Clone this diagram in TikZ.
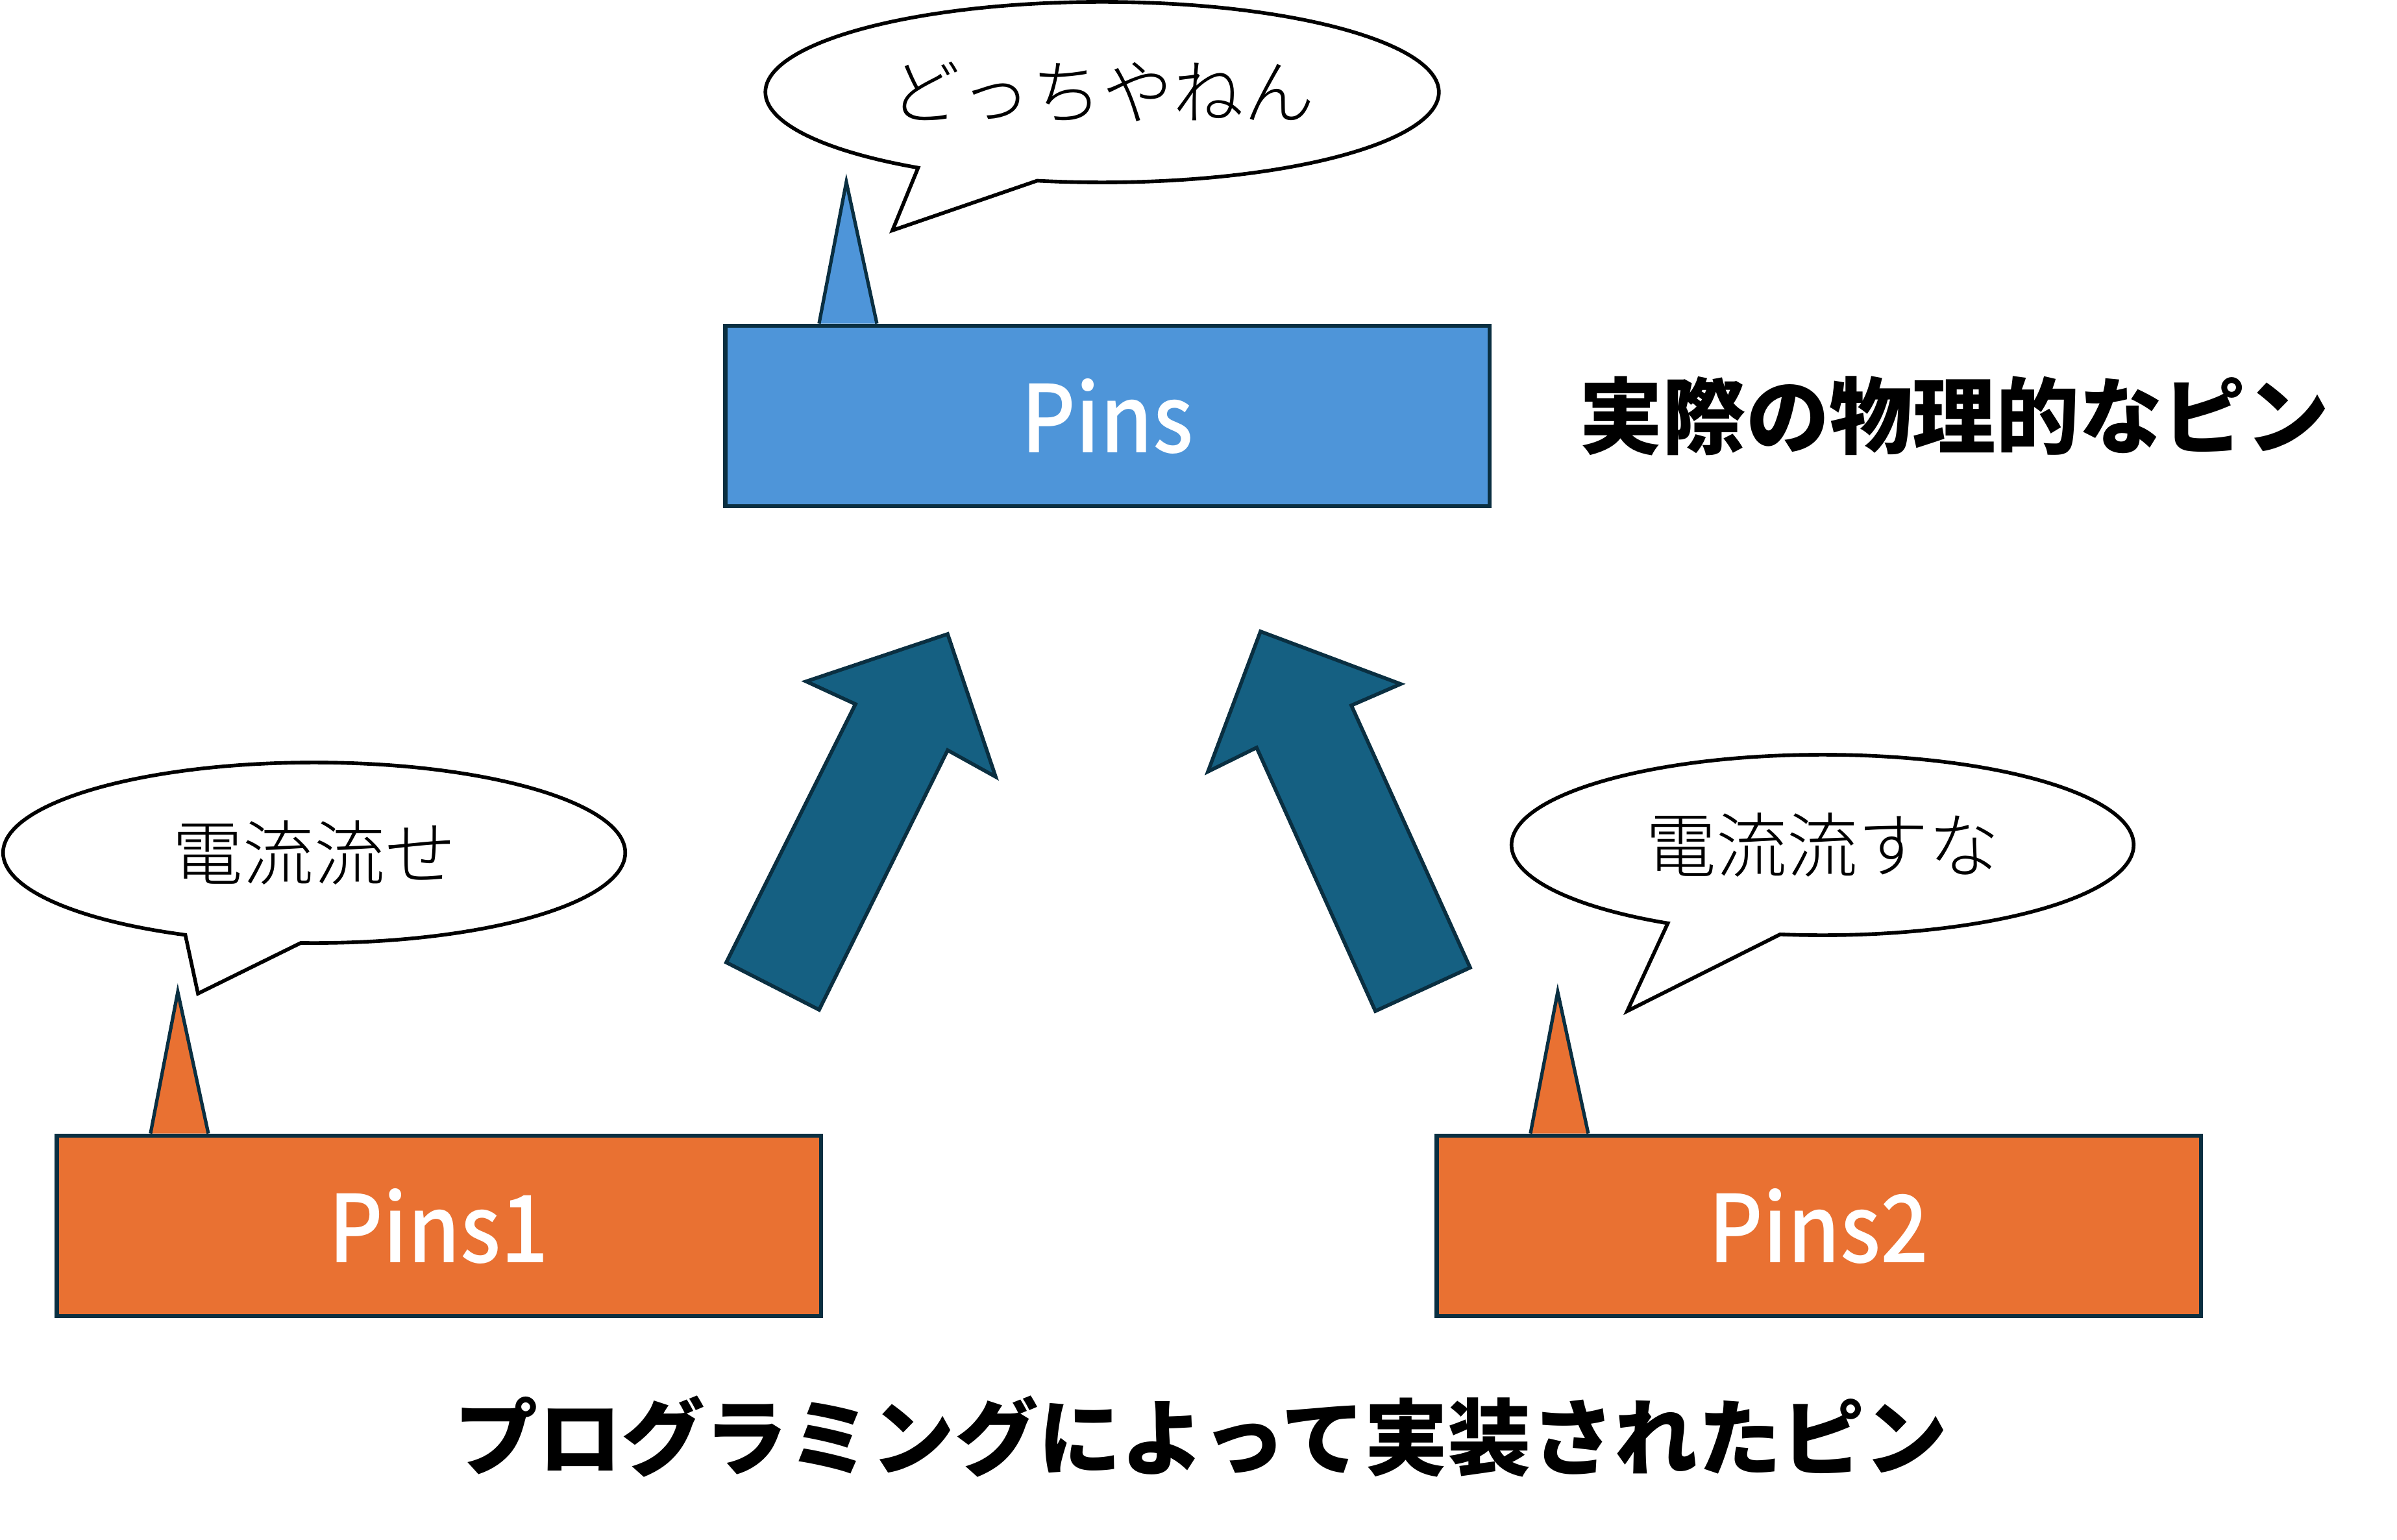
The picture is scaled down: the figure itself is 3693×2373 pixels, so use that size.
\documentclass[tikz,border=0pt]{standalone}
\usepackage{fontspec}
\setmainfont{Noto Sans CJK JP}
\newfontfamily\thinjp{Noto Sans CJK JP Light}
\newfontfamily\pinfont[FakeStretch=0.9]{Noto Sans CJK JP Medium}
\usepackage{tikz}
\usetikzlibrary{shapes.callouts,backgrounds}
\definecolor{pinblue}{HTML}{4E95D9}
\definecolor{pinorange}{HTML}{E97132}
\definecolor{arrowblue}{HTML}{156082}
\definecolor{edgenavy}{HTML}{0A2F41}

\begin{document}
\begin{tikzpicture}[x=0.01cm,y=-0.01cm,
  pinbox/.style={draw=edgenavy,line width=1.9pt,minimum width=11.77cm,minimum height=2.78cm,text=white,font=\pinfont\fontsize{41}{49}\selectfont},
  spike/.style={draw=edgenavy,line width=1.5pt},
  bubble/.style={ellipse callout,draw=black,fill=white,line width=1.6pt,minimum height=2.78cm,callout pointer arc=22,font=\thinjp\fontsize{31}{37}\selectfont},
  bigarrow/.style={draw=edgenavy,fill=arrowblue,line width=1.6pt},
  caption/.style={font=\bfseries\fontsize{36.5}{44}\selectfont}]

\useasboundingbox (0,0) rectangle (3693,2373);

%%%%% Boxes %%%%%
\node[pinbox,fill=pinblue] (pins) at (1706,641) {Pins};
\node[pinbox,fill=pinorange] (pinsA) at (676,1889) {Pins1};
\node[pinbox,fill=pinorange] (pinsB) at (2802,1889) {Pins2};

%%%%% Spikes %%%%%
\begin{scope}[on background layer]
\foreach \b/\c in {pins/pinblue,pinsA/pinorange,pinsB/pinorange}{
\filldraw[spike,fill=\c] ([xshift=1.48cm]\b.north west)--([xshift=1.90cm,yshift=2.18cm]\b.north west)--([xshift=2.37cm]\b.north west);
}
\end{scope}

%%%%% Callouts %%%%%
\coordinate (tipA) at (1375,355);
\coordinate (tipB) at (305,1531);
\coordinate (tipC) at (2507,1558);
\node[bubble,minimum width=10.37cm,callout absolute pointer=(tipA)] (ask) at (1698,142) {どっちやねん};
\node[bubble,minimum width=9.58cm,callout absolute pointer=(tipB)] (askA) at (484,1314) {電流流せ};
\node[bubble,minimum width=9.58cm,callout absolute pointer=(tipC)] (askB) at (2808,1302) {電流流すな};

%%%%% Arrows %%%%%
\filldraw[bigarrow] (1119,1483)--(1318,1085)--(1242,1050)--(1460,977)--(1534,1197)--(1460,1156)--(1262,1556)--cycle;
\filldraw[bigarrow] (2119,1558)--(1936,1152)--(1861,1189)--(1942,973)--(2158,1054)--(2082,1087)--(2265,1491)--cycle;

%%%%% Labels %%%%%
\node[caption] (real) at (3011,641) {実際の物理的なピン};
\node[caption] (prog) at (1851,2214) {プログラミングによって実装されたピン};

\end{tikzpicture}
\end{document}
